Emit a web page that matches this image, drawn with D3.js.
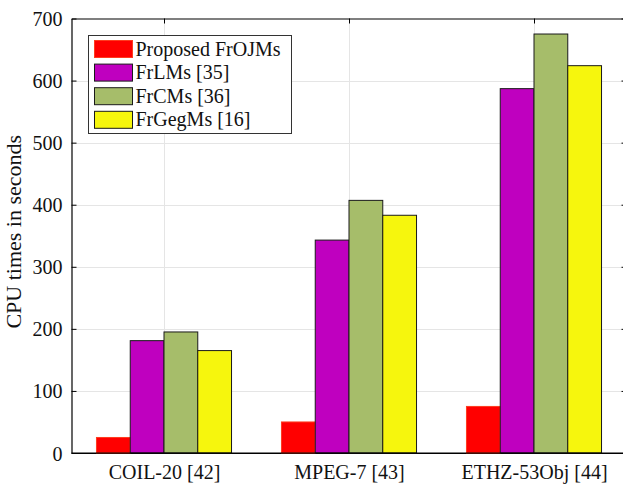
<!DOCTYPE html>
<html>
<head>
<meta charset="utf-8">
<script src="https://cdn.jsdelivr.net/npm/d3@7"></script>
<style>
  html, body { margin: 0; padding: 0; background: #fff; }
  svg { display: block; font-family: "Liberation Serif", "Times New Roman", serif; }
</style>
</head>
<body>
<div id="chart"></div>
<script>
const categories = ["COIL-20 [42]", "MPEG-7 [43]", "ETHZ-53Obj [44]"];
const seriesNames = ["Proposed FrOJMs", "FrLMs [35]", "FrCMs [36]", "FrGegMs [16]"];
const seriesColors = ["#ff0000", "#bf00bf", "#a6bd6a", "#f6f60d"];
const proposed = [25, 50, 75];
const frlms = [181, 343, 587];
const frcms = [195, 407, 675];
const frgegms = [165, 383, 624];
const yTicks = [0, 100, 200, 300, 400, 500, 600, 700];

const seriesValues = [proposed, frlms, frcms, frgegms];

const W = 623, H = 485;
const m = { left: 71.5, right: -3.5, top: 18.5, bottom: 32 };
const FONT = "Liberation Serif, Times New Roman, serif";

const svg = d3.select("#chart").append("svg")
  .attr("width", W).attr("height", H)
  .attr("font-family", FONT);

const x = d3.scaleLinear().domain([0.5, 3.5]).range([m.left, W - m.right]);
const y = d3.scaleLinear().domain([0, 700]).range([H - m.bottom, m.top]);

const groupW = 0.73;
const barW = groupW / seriesNames.length;

// ── Grid ──
const grid = svg.append("g").attr("stroke", "#e5e5e5").attr("stroke-width", 1);
grid.selectAll("line.h").data(yTicks.slice(1, -1)).join("line")
  .attr("x1", x(0.5)).attr("x2", x(3.5))
  .attr("y1", d => Math.round(y(d)) + 0.5).attr("y2", d => Math.round(y(d)) + 0.5);
grid.selectAll("line.v").data(d3.range(1, categories.length + 1)).join("line")
  .attr("y1", y(0)).attr("y2", y(700))
  .attr("x1", d => Math.round(x(d)) + 0.5).attr("x2", d => Math.round(x(d)) + 0.5);

// ── Axes (inward ticks, box) ──
const yLeft = d3.axisLeft(y).tickValues(yTicks).tickSizeInner(-5).tickSizeOuter(0).tickPadding(9);
const gy = svg.append("g").attr("transform", `translate(${m.left},0)`).call(yLeft);
const yRight = d3.axisRight(y).tickValues(yTicks).tickSizeInner(-5).tickSizeOuter(0).tickFormat("");
svg.append("g").attr("transform", `translate(${x(3.5)},0)`).call(yRight);
const xTop = d3.axisTop(x).tickValues([1, 2, 3]).tickSizeInner(-5).tickSizeOuter(0).tickFormat("");
svg.append("g").attr("transform", `translate(0,${m.top})`).call(xTop);
const xBottom = d3.axisBottom(x).tickValues([1, 2, 3]).tickSizeInner(-5).tickSizeOuter(0)
  .tickPadding(12).tickFormat(i => categories[i - 1]);
svg.append("g").attr("transform", `translate(0,${y(0)})`).call(xBottom);

svg.selectAll("g").attr("font-family", FONT);
svg.selectAll(".domain").attr("stroke", "#000").attr("stroke-width", 1.2);
svg.selectAll(".tick line").attr("stroke", "#000");
svg.selectAll(".tick text").attr("font-size", 20).attr("fill", "#111");
gy.selectAll(".tick text").attr("dy", "0.35em");

// ── Bars ──
const bars = svg.append("g");
seriesValues.forEach((vals, s) => {
  bars.selectAll(null).data(vals).join("rect")
    .attr("x", (d, i) => x(i + 1 - groupW / 2 + s * barW))
    .attr("width", x(barW) - x(0))
    .attr("y", d => y(d))
    .attr("height", d => y(0) - y(d))
    .attr("fill", seriesColors[s])
    .attr("stroke", s === 0 ? "#ff3b1f" : "#1a1a1a")
    .attr("stroke-width", 1);
});

// redraw bottom axis line over bars
svg.append("line")
  .attr("x1", m.left).attr("x2", W).attr("y1", y(0)).attr("y2", y(0))
  .attr("stroke", "#000").attr("stroke-width", 1.2);

// ── Y label ──
svg.append("text")
  .attr("transform", `translate(21,${(y(0) + y(700)) / 2 - 4}) rotate(-90)`)
  .attr("text-anchor", "middle")
  .attr("font-size", 22)
  .attr("fill", "#111")
  .text("CPU times in seconds");

// ── Legend ──
const lg = svg.append("g").attr("transform", "translate(88.5,35.5)");
lg.append("rect").attr("width", 203).attr("height", 98)
  .attr("fill", "#fff").attr("stroke", "#333").attr("stroke-width", 1);
seriesNames.forEach((name, s) => {
  const row = lg.append("g").attr("transform", `translate(6,${5 + s * 23.6})`);
  row.append("rect").attr("width", 38).attr("height", 17)
    .attr("fill", seriesColors[s])
    .attr("stroke", s === 0 ? "#ff3b1f" : "#1a1a1a");
  row.append("text").attr("x", 41).attr("y", 15)
    .attr("font-size", 20).attr("fill", "#111").text(name);
});
</script>
</body>
</html>
